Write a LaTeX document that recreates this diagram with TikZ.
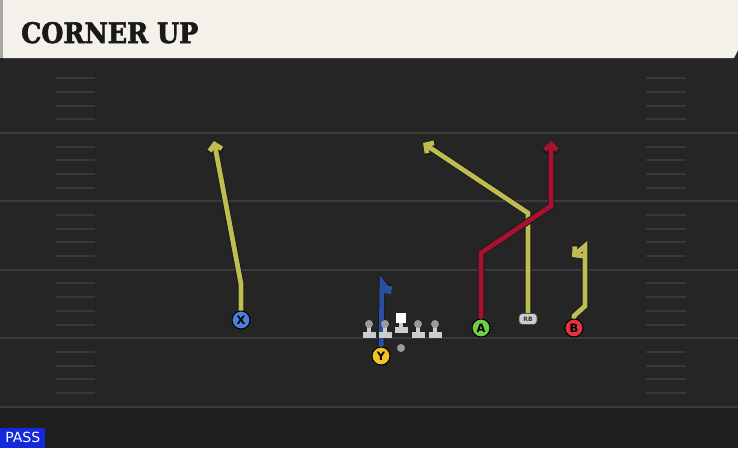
\documentclass[tikz,border=0pt]{standalone}
\usepackage{fontspec}
\usepackage{graphicx}
\setmainfont{DejaVu Sans}
\newfontfamily\titlefont[FakeBold=2]{DejaVu Serif Condensed Bold}
\usetikzlibrary{arrows.meta}
\definecolor{fieldbg}{HTML}{252525}
\definecolor{fieldline}{HTML}{3B3B3B}
\definecolor{hashcol}{HTML}{383838}
\definecolor{cream}{HTML}{F4F1EA}
\definecolor{yel}{HTML}{BDBD52}
\definecolor{redroute}{HTML}{A8122F}
\definecolor{blueroute}{HTML}{2B4FA0}
\definecolor{xblue}{HTML}{4A80DA}
\definecolor{yyellow}{HTML}{F2C423}
\definecolor{agreen}{HTML}{6FD045}
\definecolor{bred}{HTML}{E23442}
\definecolor{passblue}{HTML}{1428DC}
\definecolor{linegrey}{HTML}{CDCDCD}
\definecolor{headgrey}{HTML}{9A9A9A}
\tikzset{
  player/.style={circle, draw=black, line width=1pt, minimum size=18pt, inner sep=0pt,
    font=\fontsize{11.5}{11.5}\selectfont\bfseries, text=black},
  outline/.style={draw=black!90, line width=6.6pt, line join=miter, line cap=butt},
  route/.style={draw=#1, line width=4.8pt, line join=miter, line cap=butt},
  tipo/.style={-{Straight Barb[length=6.5pt,width=14pt]}},
  tipc/.style={-{Straight Barb[length=5.8pt,width=12.5pt]}},
}
\begin{document}
\begin{tikzpicture}[x=1pt,y=-1pt]
\useasboundingbox (0,0) rectangle (738,448);
\fill[fieldbg] (0,0) rectangle (738,448);
\fill[black!15!fieldbg] (0,408) rectangle (738,448);
% header
\fill[black!85] (0,57) rectangle (738,64);
\fill[cream] (3,0) -- (738,0) -- (738,50) -- (734,58) -- (3,58) -- cycle;
\fill[gray!70] (0,0) rectangle (3,58);
\node[anchor=base west, inner sep=0pt, text=black!90] (title) at (21,43)
  {\resizebox{177pt}{21pt}{\titlefont CORNER UP}};
% field lines
\foreach \k in {0,1,2,3,4}
  \draw[fieldline, line width=2pt] (0,{133+68.4*\k}) -- (738,{133+68.4*\k});
% hash marks
\foreach \j in {-4,-3,-2,-1,1,2,3,4,6,7,8,9,11,12,13,14,16,17,18,19} {
  \draw[hashcol, line width=2pt] (56,{133+13.68*\j}) -- (95,{133+13.68*\j});
  \draw[hashcol, line width=2pt] (646,{133+13.68*\j}) -- (686,{133+13.68*\j});
}
% players
\node[player, fill=xblue] (X) at (241,320) {X};
\node[player, fill=yyellow] (Y) at (381,356) {Y};
\node[player, fill=agreen] (A) at (481,328) {A};
\node[player, fill=bred] (B) at (574,328) {B};
\node[fill=linegrey, draw=black!70, line width=0.6pt, rounded corners=3.5pt, minimum width=18pt,
  minimum height=11pt, inner sep=0pt, font=\fontsize{6}{6}\selectfont\bfseries, text=black!80] (RB) at (528,319) {RB};
% route waypoints
\coordinate (x1) at (241,284);
\coordinate (x2) at (214,141);
\coordinate (y1) at (382,282);
\coordinate (y2) at (391,294);
\coordinate (a1) at (481,253);
\coordinate (a2) at (551,206);
\coordinate (a3) at (551,141);
\coordinate (r1) at (528,213);
\coordinate (r2) at (423,143);
\coordinate (b0) at (574,316);
\coordinate (b1) at (585,306);
\coordinate (b2) at (585,246);
\coordinate (b3) at (572,257);
% routes
\draw[outline, tipo] (X) -- (x1) -- (x2);
\draw[route=yel, tipc] (X) -- (x1) -- (x2);
\draw[outline, tipo] (RB) -- (r1) -- (r2);
\draw[route=yel, tipc] (RB) -- (r1) -- (r2);
\draw[outline, tipo] (A) -- (a1) -- (a2) -- (a3);
\draw[route=redroute, tipc] (A) -- (a1) -- (a2) -- (a3);
\draw[outline, tipo] (B) -- (b0) -- (b1) -- (b2) -- (b3);
\draw[route=yel, tipc] (B) -- (b0) -- (b1) -- (b2) -- (b3);
\draw[outline, -{Straight Barb[length=4.5pt,width=9.5pt]}] (Y) -- (y1) -- (y2);
\draw[route=blueroute, -{Straight Barb[length=3.8pt,width=8pt]}] (Y) -- (y1) -- (y2);
% linemen
\foreach \lx in {369,385,418,435} {
  \fill[linegrey] (\lx-2,324) rectangle (\lx+2,333);
  \fill[linegrey] (\lx-6.5,331.5) rectangle (\lx+6.5,337.5);
  \fill[headgrey] (\lx,324) circle (4pt);
}
\fill[linegrey] (401-2,322) rectangle (401+2,328);
\fill[linegrey] (401-6.5,326.5) rectangle (401+6.5,332.5);
\fill[white] (396,313) rectangle (406,323);
\fill[headgrey] (401,348) circle (4pt);
% pass label
\node[fill=passblue, text=white, anchor=south west, minimum width=45pt, minimum height=20pt,
  inner sep=0pt, font=\fontsize{14}{14}\selectfont] (pass) at (0,448) {PASS};
\end{tikzpicture}
\end{document}
